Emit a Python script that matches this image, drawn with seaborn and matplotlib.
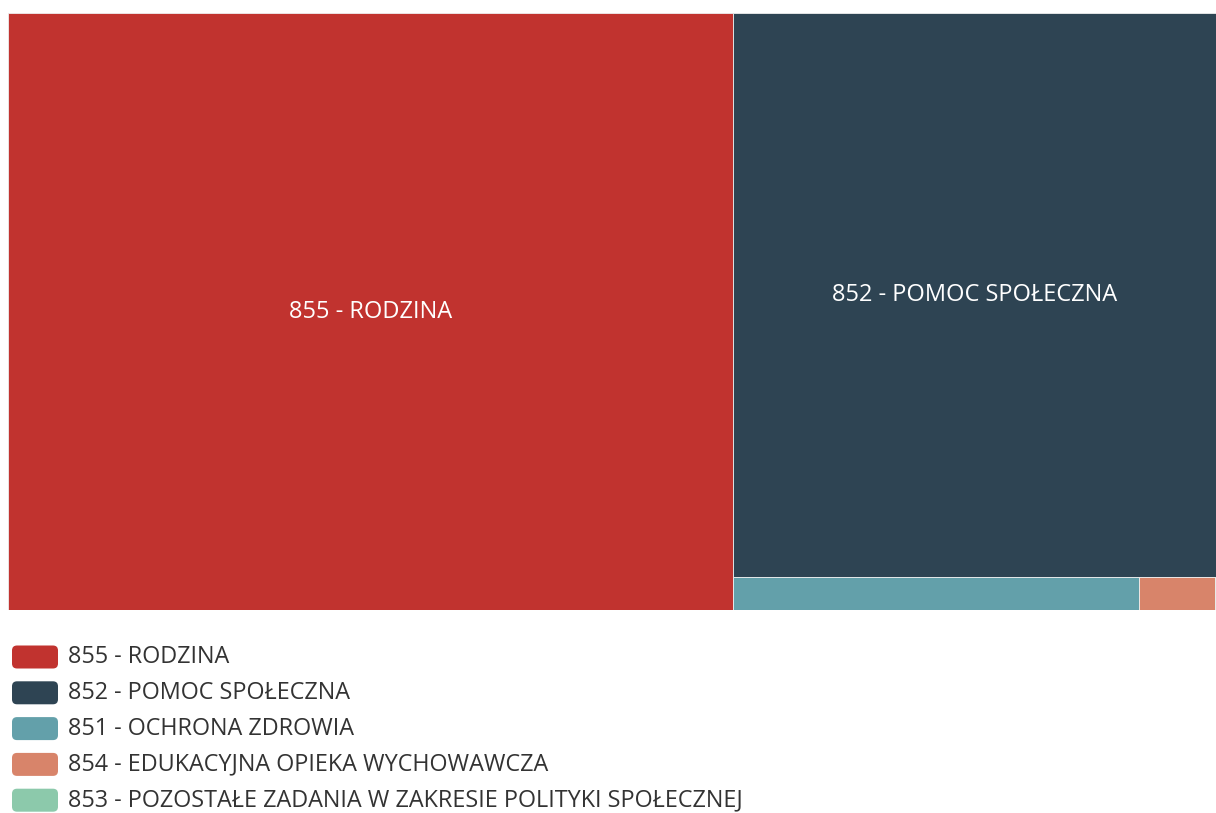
import numpy as np
import matplotlib
matplotlib.use("Agg")
import matplotlib.pyplot as plt
from matplotlib.patches import Rectangle, FancyBboxPatch
import seaborn as sns

# dane: udział działów w wydatkach (%)
labels = [
    "855 - RODZINA",
    "852 - POMOC SPOŁECZNA",
    "851 - OCHRONA ZDROWIA",
    "854 - EDUKACYJNA OPIEKA WYCHOWAWCZA",
    "853 - POZOSTAŁE ZADANIA W ZAKRESIE POLITYKI SPOŁECZNEJ",
]
values = [60.0, 37.8, 1.86, 0.35, 0.004]
colors = ["#C1332F", "#2E4453", "#63A0AA", "#D8846A", "#8CC9AB"]
show_label = [True, True, False, False, False]


def worst(row, w):
    s = sum(row)
    return max(max(w * w * r / (s * s), (s * s) / (w * w * r)) for r in row)


def layout_row(row, x, y, dx, dy):
    s = sum(row)
    rects = []
    if dx >= dy:
        # kolumna po lewej
        cw = s / dy
        yy = y
        for r in row:
            h = r / cw
            rects.append((x, yy, cw, h))
            yy += h
        return rects, (x + cw, y, dx - cw, dy)
    rh = s / dx
    xx = x
    for r in row:
        w = r / rh
        rects.append((xx, y, w, rh))
        xx += w
    return rects, (x, y + rh, dx, dy - rh)


def squarify(vals, x, y, dx, dy):
    total = sum(vals)
    areas = [v * dx * dy / total for v in vals]
    rects = []
    i = 0
    while i < len(areas):
        row = [areas[i]]
        i += 1
        side = min(dx, dy)
        while i < len(areas) and worst(row + [areas[i]], side) <= worst(row, side):
            row.append(areas[i])
            i += 1
        r, (x, y, dx, dy) = layout_row(row, x, y, dx, dy)
        rects += r
    return rects


sns.set_theme(style="white")
plt.rcParams["font.family"] = ["Open Sans", "DejaVu Sans"]

W, H = 1208, 597
fig = plt.figure(figsize=(12.16, 8.13), dpi=100)
ax = fig.add_axes([8 / 1216, (813 - 610) / 813, W / 1216, H / 813])
ax.set_xlim(0, W)
ax.set_ylim(H, 0)
ax.axis("off")

rects = squarify(values, 0, 0, W, H)
for (x, y, w, h), c, lab, show in zip(rects, colors, labels, show_label):
    ax.add_patch(Rectangle((x, y), w, h, facecolor=c, edgecolor="#eeeeee", linewidth=0.6))
    if show:
        ax.text(x + w / 2, y + h / 2, lab, color="white", fontsize=17,
                ha="center", va="center")

# legenda
lax = fig.add_axes([0, 0, 1, 1], zorder=-1)
lax.set_xlim(0, 1216)
lax.set_ylim(813, 0)
lax.axis("off")
for i, (lab, c) in enumerate(zip(labels, colors)):
    yc = 657 + i * 35.8
    lax.add_patch(FancyBboxPatch((12, yc - 11.5), 46, 23,
                                 boxstyle="round,pad=0,rounding_size=5",
                                 facecolor=c, edgecolor="none"))
    lax.text(68, yc, lab, fontsize=16.8, color="#333333", va="center", ha="left")

fig.savefig("out.png", dpi=100)
